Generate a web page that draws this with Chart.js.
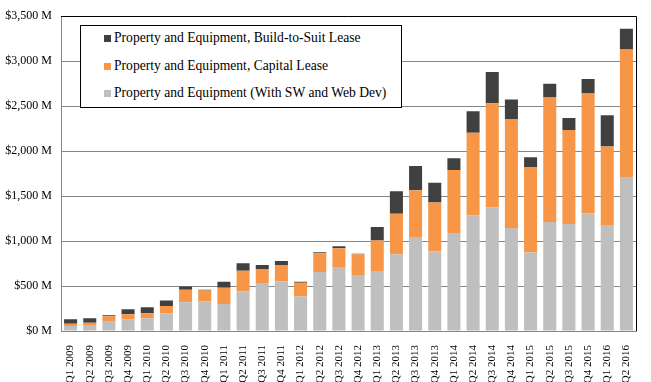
<!DOCTYPE html>
<html>
<head>
<meta charset="utf-8">
<script src="https://cdn.jsdelivr.net/npm/chart.js@4.4.1/dist/chart.umd.min.js"></script>
<style>
  html, body { margin: 0; padding: 0; background: #fff; }
  #wrap { position: relative; width: 651px; height: 382px; }
  #legend {
    position: absolute; left: 80px; top: 25px; width: 320px; height: 81px;
    border: 1px solid #000; background: #fff; box-sizing: content-box;
    font-family: "Liberation Serif", "Times New Roman", serif; font-size: 13.6px; color: #000;
  }
  .item { position: absolute; left: 23px; height: 16px; line-height: 16px; white-space: nowrap; }
  .sw { display: inline-block; width: 7px; height: 7px; margin-right: 3px; vertical-align: 0px; }
</style>
</head>
<body>
<div id="wrap">
  <canvas id="c" width="651" height="382"></canvas>
  <div id="legend"></div>
</div>
<script>
const categories = ["Q1 2009","Q2 2009","Q3 2009","Q4 2009","Q1 2010","Q2 2010","Q3 2010","Q4 2010",
  "Q1 2011","Q2 2011","Q3 2011","Q4 2011","Q1 2012","Q2 2012","Q3 2012","Q4 2012",
  "Q1 2013","Q2 2013","Q3 2013","Q4 2013","Q1 2014","Q2 2014","Q3 2014","Q4 2014",
  "Q1 2015","Q2 2015","Q3 2015","Q4 2015","Q1 2016","Q2 2016"];

// $ millions
const propertyEquipment = [55, 66, 102, 131, 142, 197, 321, 328, 299, 438, 526, 551, 383, 657, 712, 613,
  666, 852, 1036, 887, 1082, 1287, 1374, 1145, 873, 1211, 1189, 1309, 1178, 1713];
const capitalLease = [25, 25, 62, 55, 55, 80, 139, 121, 182, 232, 164, 182, 153, 208, 207, 241,
  339, 452, 529, 542, 708, 916, 1157, 1211, 949, 1385, 1047, 1331, 873, 1418];
const buildToSuit = [51, 51, 11, 55, 66, 62, 36, 11, 66, 84, 43, 44, 11, 11, 22, 4,
  152, 249, 270, 219, 132, 240, 349, 218, 109, 153, 131, 163, 349, 229];

const seriesNames = ["Property and Equipment (With SW and Web Dev)",
  "Property and Equipment, Capital Lease",
  "Property and Equipment, Build-to-Suit Lease"];
const seriesColors = ["#BFBFBF", "#F79646", "#404040"];

const yTicks = { min: 0, max: 3500, step: 500 };

const serif = "'Liberation Serif', 'Times New Roman', serif";

const frame = {
  id: 'frame',
  afterDatasetsDraw(chart) {
    const a = chart.chartArea, ctx = chart.ctx;
    ctx.save();
    ctx.strokeStyle = '#000';
    ctx.lineWidth = 1;
    ctx.beginPath();
    ctx.moveTo(a.left, Math.round(a.top) + 0.5);
    ctx.lineTo(Math.round(a.right) + 0.5, Math.round(a.top) + 0.5);
    ctx.lineTo(Math.round(a.right) + 0.5, a.bottom);
    ctx.stroke();
    ctx.restore();
  }
};

const values = [propertyEquipment, capitalLease, buildToSuit];
const chart = new Chart(document.getElementById('c'), {
  type: 'bar',
  data: {
    labels: categories,
    datasets: values.map((v, i) => ({
      label: seriesNames[i], data: v, backgroundColor: seriesColors[i],
      borderWidth: 0, categoryPercentage: 1.0, barPercentage: 0.68
    }))
  },
  options: {
    responsive: false, animation: false,
    layout: { padding: { top: 10, right: 15, left: 0, bottom: 0 } },
    plugins: { legend: { display: false }, tooltip: { enabled: false } },
    scales: {
      x: {
        stacked: true,
        grid: { display: false },
        border: { display: true, color: '#868686' },
        ticks: { autoSkip: false, minRotation: 90, maxRotation: 90, padding: 6,
          color: '#000', font: { family: serif, size: 11 } },
        afterFit(s) { s.height = 51; }
      },
      y: {
        stacked: true, min: yTicks.min, max: yTicks.max,
        grid: { color: '#868686', drawTicks: false },
        border: { display: true, color: '#868686' },
        ticks: { stepSize: yTicks.step, padding: 9, color: '#000',
          font: { family: serif, size: 12 },
          callback: v => '$' + v.toLocaleString('en-US') + ' M' },
        afterFit(s) { s.width = 61; }
      }
    }
  },
  plugins: [frame]
});

// legend (top-to-bottom reverse of stacking order)
const lg = document.getElementById('legend');
[2, 1, 0].forEach((idx, row) => {
  const d = document.createElement('div');
  d.className = 'item';
  d.style.top = (4 + row * 27.5) + 'px';
  d.innerHTML = '<span class="sw" style="background:' + seriesColors[idx] + '"></span>' + seriesNames[idx];
  lg.appendChild(d);
});
</script>
</body>
</html>
